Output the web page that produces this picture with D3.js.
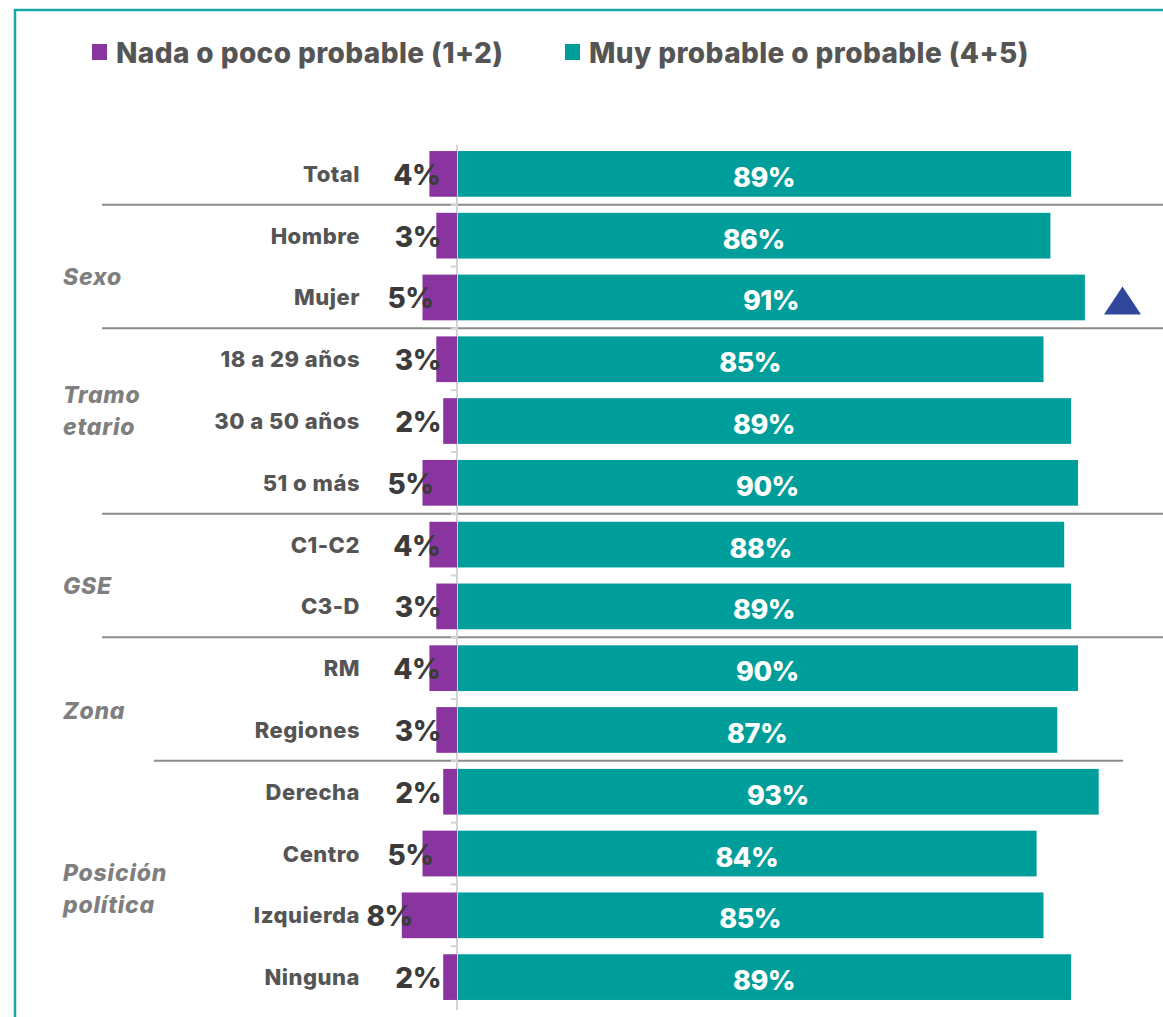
<!DOCTYPE html>
<html>
<head>
<meta charset="utf-8">
<script src="https://cdn.jsdelivr.net/npm/d3@7"></script>
<style>
  body { margin: 0; background: #fff; }
  text { font-family: Inter, Roboto, "Noto Sans", sans-serif; }
</style>
</head>
<body>
<svg id="chart" width="1163" height="1017"></svg>
<script>
const categories = ['Total', 'Hombre', 'Mujer', '18 a 29 años', '30 a 50 años', '51 o más',
  'C1-C2', 'C3-D', 'RM', 'Regiones', 'Derecha', 'Centro', 'Izquierda', 'Ninguna']
const lowValues = [4, 3, 5, 3, 2, 5, 4, 3, 4, 3, 2, 5, 8, 2]
const highValues = [89, 86, 91, 85, 89, 90, 88, 89, 90, 87, 93, 84, 85, 89]
const seriesNames = ['Nada o poco probable (1+2)', 'Muy probable o probable (4+5)']
const groupNames = [['Sexo'], ['Tramo', 'etario'], ['GSE'], ['Zona'], ['Posición', 'política']]
const groupFirst = ['Hombre', '18 a 29 años', 'C1-C2', 'RM', 'Derecha']
const groupLast = ['Mujer', '51 o más', 'C3-D', 'Regiones', 'Ninguna']
const significantUp = ['Mujer']

const PURPLE = '#8A359F'
const TEAL = '#009E9A'
// vertical nudge of each group label from its group's middle
const labelNudge = [18, -18, 18, 20, -3]

const svg = d3.select('#chart')

// frame
svg.append('path')
  .attr('d', 'M 15 1017 V 10 H 1163')
  .attr('fill', 'none')
  .attr('stroke', '#17A8A4')
  .attr('stroke-width', 2.5)

const x = d3.scaleLinear().domain([0, 100]).range([457, 457 + 690])
const y = d3.scaleBand().domain(categories).range([143, 1008]).paddingInner(0.26).paddingOuter(0.13)
const step = y.step()
const bandTop = c => y(c) - y.step() * y.paddingInner() / 2

// legend
const legend = svg.append('g')
const legendX = [92, 565]
seriesNames.forEach((name, i) => {
  const g = legend.append('g').attr('transform', `translate(${legendX[i]},0)`)
  g.append('rect').attr('x', 0).attr('y', 44).attr('width', 15).attr('height', 16)
    .attr('fill', i === 0 ? PURPLE : TEAL)
  g.append('text').attr('x', 24).attr('y', 63)
    .attr('font-size', 28).attr('font-weight', 800).attr('fill', '#555')
    .attr('letter-spacing', 0.4)
    .text(name)
})

// separators between groups
const sepAfter = ['Total', 'Mujer', '51 o más', 'C3-D', 'Regiones']
svg.append('g').selectAll('line')
  .data(sepAfter)
  .join('line')
  .attr('x1', (d, i) => i === 4 ? 154 : 102)
  .attr('x2', (d, i) => i === 4 ? 1123 : 1163)
  .attr('y1', d => bandTop(d) + step)
  .attr('y2', d => bandTop(d) + step)
  .attr('stroke', '#8c8c8c')
  .attr('stroke-width', 2)

// axis line with small ticks at band boundaries
const axis = svg.append('g')
axis.append('line')
  .attr('x1', x(0)).attr('x2', x(0))
  .attr('y1', 145).attr('y2', 1010)
  .attr('stroke', '#d4d4d4').attr('stroke-width', 2)
axis.selectAll('line.tick')
  .data(categories.slice(1))
  .join('line')
  .attr('class', 'tick')
  .attr('x1', x(0) - 6).attr('x2', x(0))
  .attr('y1', d => bandTop(d)).attr('y2', d => bandTop(d))
  .attr('stroke', '#d4d4d4').attr('stroke-width', 2)

// purple bars
svg.append('g').selectAll('rect')
  .data(categories)
  .join('rect')
  .attr('x', (d, i) => x(0) - (x(lowValues[i]) - x(0)))
  .attr('y', d => y(d))
  .attr('width', (d, i) => x(lowValues[i]) - x(0))
  .attr('height', y.bandwidth())
  .attr('fill', PURPLE)

// teal bars
svg.append('g').selectAll('rect')
  .data(categories)
  .join('rect')
  .attr('x', x(0) + 1)
  .attr('y', d => y(d))
  .attr('width', (d, i) => x(highValues[i]) - x(0) - 1)
  .attr('height', y.bandwidth())
  .attr('fill', TEAL)

// category labels
svg.append('g').selectAll('text')
  .data(categories)
  .join('text')
  .attr('x', 360)
  .attr('y', d => y(d) + y.bandwidth() / 2 + 8)
  .attr('text-anchor', 'end')
  .attr('font-size', 22).attr('font-weight', 800).attr('fill', '#555')
  .attr('letter-spacing', 0.5)
  .text(d => d)

// purple value labels
svg.append('g').selectAll('text')
  .data(categories)
  .join('text')
  .attr('x', (d, i) => Math.min(441, x(0) - (x(lowValues[i]) - x(0)) + 11))
  .attr('y', d => y(d) + y.bandwidth() / 2 + 11)
  .attr('text-anchor', 'end')
  .attr('font-size', 28).attr('font-weight', 800).attr('fill', '#3b3b3b')
  .attr('letter-spacing', -0.5)
  .text((d, i) => lowValues[i] + '%')

// teal value labels
svg.append('g').selectAll('text')
  .data(categories)
  .join('text')
  .attr('x', (d, i) => (x(0) + x(highValues[i])) / 2)
  .attr('y', d => y(d) + y.bandwidth() / 2 + 13)
  .attr('text-anchor', 'middle')
  .attr('font-size', 27).attr('font-weight', 800).attr('fill', '#fff')
  .attr('letter-spacing', -0.5)
  .text((d, i) => highValues[i] + '%')

// significance marker
svg.append('g').selectAll('path')
  .data(significantUp)
  .join('path')
  .attr('d', d => {
    const cy = y(d) + y.bandwidth() / 2 + 3
    return `M 1104 ${cy + 14} L 1122.5 ${cy - 14} L 1141 ${cy + 14} Z`
  })
  .attr('fill', '#30479B')

// group labels
const gl = svg.append('g').selectAll('text')
  .data(groupNames)
  .join('text')
  .attr('font-size', 23).attr('font-weight', 800).attr('font-style', 'italic').attr('fill', '#7f7f7f')
  .attr('letter-spacing', 0.8)
  .attr('x', 63)
  .attr('y', (d, i) => (y(groupFirst[i]) + y(groupLast[i]) + y.bandwidth()) / 2 + labelNudge[i])
gl.selectAll('tspan')
  .data(d => d)
  .join('tspan')
  .attr('x', 63)
  .attr('dy', (d, i) => i === 0 ? 0 : 32)
  .text(d => d)
</script>
</body>
</html>
